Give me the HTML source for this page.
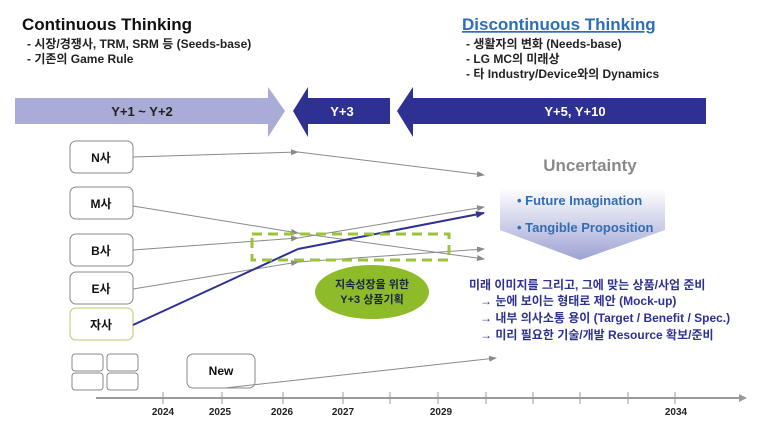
<!DOCTYPE html>
<html><head><meta charset="utf-8"><style>
body{margin:0;background:#fff;width:773px;height:429px;overflow:hidden}
svg text{font-family:"Liberation Sans","Noto Sans CJK KR",sans-serif}
</style></head><body>
<svg width="773" height="429" viewBox="0 0 773 429" xmlns="http://www.w3.org/2000/svg">
<defs>
<marker id="ag" markerWidth="8" markerHeight="6" refX="7" refY="3" orient="auto" markerUnits="userSpaceOnUse"><path d="M0,0L8,3L0,6z" fill="#8a8a8a"/></marker>
<marker id="ab" markerWidth="9" markerHeight="7" refX="8" refY="3.5" orient="auto" markerUnits="userSpaceOnUse"><path d="M0,0L9,3.5L0,7z" fill="#2e3192"/></marker>
<linearGradient id="gr" x1="0" y1="0" x2="0" y2="1"><stop offset="0" stop-color="#fff"/><stop offset="1" stop-color="#9ea2d3"/></linearGradient>
</defs>
<text x="22" y="30" font-size="17" font-weight="bold" fill="#111">Continuous Thinking</text>
<text x="27" y="48" font-size="12" font-weight="bold" fill="#222">- 시장/경쟁사, TRM, SRM 등 (Seeds-base)</text>
<text x="27" y="63" font-size="12" font-weight="bold" fill="#222">- 기존의 Game Rule</text>
<text x="462" y="30" font-size="17" font-weight="bold" fill="#2f6db5" text-decoration="underline">Discontinuous Thinking</text>
<text x="466" y="48" font-size="12" font-weight="bold" fill="#222">- 생활자의 변화 (Needs-base)</text>
<text x="466" y="63" font-size="12" font-weight="bold" fill="#222">- LG MC의 미래상</text>
<text x="466" y="78" font-size="12" font-weight="bold" fill="#222">- 타 Industry/Device와의 Dynamics</text>
<path d="M15,98H268V87L285,111L268,137V124H15z" fill="#a9acd6"/>
<path d="M293,111L308,87V98H390V124H308V137z" fill="#2e3192"/>
<path d="M397,111L413,87V98H706V124H413V137z" fill="#2e3192"/>
<text x="142" y="116" font-size="13" font-weight="bold" fill="#222" text-anchor="middle">Y+1 ~ Y+2</text>
<text x="342" y="116" font-size="13" font-weight="bold" fill="#fff" text-anchor="middle">Y+3</text>
<text x="575" y="116" font-size="13" font-weight="bold" fill="#fff" text-anchor="middle">Y+5, Y+10</text>
<g fill="#fff" stroke="#888" stroke-width="1">
<rect x="70" y="141" width="63" height="32" rx="6"/>
<rect x="70" y="187" width="63" height="32" rx="6"/>
<rect x="70" y="234" width="63" height="32" rx="6"/>
<rect x="70" y="272" width="63" height="32" rx="6"/>
<rect x="70" y="308" width="63" height="32" rx="6" stroke="#b5cc6a"/>
<rect x="72" y="354" width="31" height="17" rx="3"/>
<rect x="107" y="354" width="31" height="17" rx="3"/>
<rect x="72" y="373" width="31" height="17" rx="3"/>
<rect x="107" y="373" width="31" height="17" rx="3"/>
<rect x="187" y="354" width="68" height="34" rx="6"/>
</g>
<g font-size="12" font-weight="bold" fill="#111" text-anchor="middle">
<text x="101" y="162">N사</text><text x="101" y="208">M사</text><text x="101" y="255">B사</text><text x="101" y="293">E사</text><text x="101" y="329">자사</text><text x="221" y="375">New</text>
</g>
<g stroke="#8a8a8a" stroke-width="1" fill="none" marker-end="url(#ag)">
<line x1="133" y1="157" x2="298" y2="152"/>
<line x1="298" y1="152" x2="484" y2="175"/>
<line x1="133" y1="206" x2="298" y2="233"/>
<line x1="298" y1="233" x2="484" y2="259"/>
<line x1="133" y1="250" x2="298" y2="238"/>
<line x1="298" y1="238" x2="484" y2="207"/>
<line x1="133" y1="289" x2="298" y2="262"/>
<line x1="298" y1="262" x2="484" y2="249"/>
<line x1="225" y1="388" x2="496" y2="358"/>
</g>
<g stroke="#2e3192" stroke-width="2" fill="none">
<line x1="133" y1="325" x2="298" y2="249"/>
<line x1="298" y1="249" x2="484" y2="213" marker-end="url(#ab)"/>
</g>
<rect x="252" y="234" width="197" height="26" fill="none" stroke="#9dc23b" stroke-width="3" stroke-dasharray="10,6"/>
<ellipse cx="372" cy="292" rx="57" ry="27" fill="#8dbb2a"/>
<text x="372" y="288" font-size="11" font-weight="bold" fill="#1a2340" text-anchor="middle">지속성장을 위한</text>
<text x="372" y="303" font-size="11" font-weight="bold" fill="#1a2340" text-anchor="middle">Y+3 상품기획</text>
<text x="590" y="171" font-size="17" font-weight="bold" fill="#8a8a8a" text-anchor="middle">Uncertainty</text>
<path d="M500,188H665V230L580,260L500,230z" fill="url(#gr)"/>
<text x="517" y="205" font-size="13" font-weight="bold" fill="#2f6db5">• Future Imagination</text>
<text x="517" y="232" font-size="13" font-weight="bold" fill="#2f6db5">• Tangible Proposition</text>
<g font-size="12" font-weight="bold" fill="#2e3192">
<text x="469" y="289">미래 이미지를 그리고, 그에 맞는 상품/사업 준비</text>
<text x="480" y="305">→ 눈에 보이는 형태로 제안 (Mock-up)</text>
<text x="480" y="322">→ 내부 의사소통 용이 (Target / Benefit / Spec.)</text>
<text x="480" y="339">→ 미리 필요한 기술/개발 Resource 확보/준비</text>
</g>
<line x1="96" y1="398" x2="740" y2="398" stroke="#999" stroke-width="2"/>
<path d="M739,394L747,398L739,402z" fill="#999"/>
<g stroke="#999" stroke-width="1">
<line x1="163" y1="392" x2="163" y2="404"/><line x1="222" y1="392" x2="222" y2="404"/><line x1="283" y1="392" x2="283" y2="404"/><line x1="343" y1="392" x2="343" y2="404"/><line x1="390" y1="392" x2="390" y2="404"/><line x1="438" y1="392" x2="438" y2="404"/><line x1="486" y1="392" x2="486" y2="404"/><line x1="533" y1="392" x2="533" y2="404"/><line x1="580" y1="392" x2="580" y2="404"/><line x1="628" y1="392" x2="628" y2="404"/><line x1="675" y1="392" x2="675" y2="404"/>
</g>
<g font-size="10" font-weight="bold" fill="#222" text-anchor="middle">
<text x="163" y="415">2024</text><text x="220" y="415">2025</text><text x="282" y="415">2026</text><text x="343" y="415">2027</text><text x="441" y="415">2029</text><text x="676" y="415">2034</text>
</g>
</svg>
</body></html>
